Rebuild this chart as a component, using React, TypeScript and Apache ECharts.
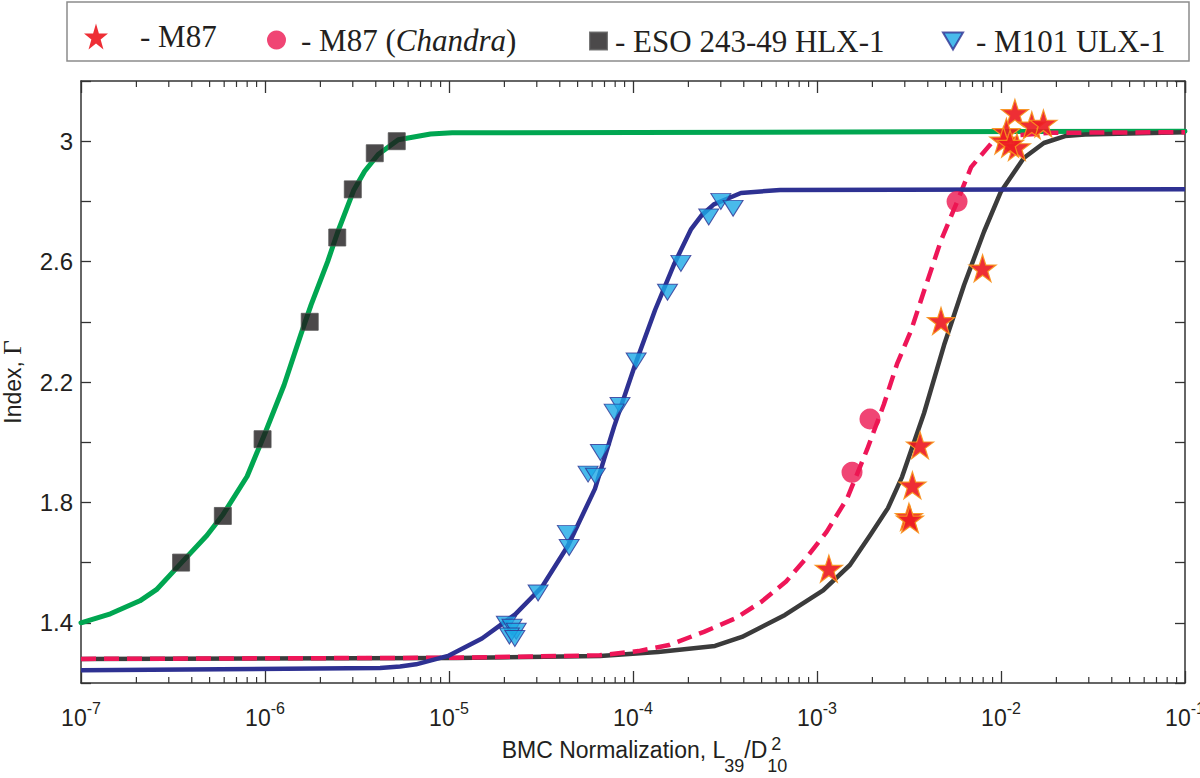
import { useEffect, useRef } from 'react';
import * as echarts from 'echarts';

/* ───── Data ───── */
// ESO 243-49 HLX-1 (black squares)
const hlxX = [3.5e-7, 5.9e-7, 9.7e-7, 1.75e-6, 2.47e-6, 3.0e-6, 3.95e-6, 5.2e-6];
const hlxY = [1.60, 1.755, 2.01, 2.40, 2.68, 2.84, 2.96, 3.0];

// M101 ULX-1 (blue triangles)
const ulxX = [3.0e-4, 3.5e-4, 2.58e-4, 1.82e-4, 1.54e-4, 1.04e-4, 8.5e-5, 7.9e-5, 6.65e-5, 5.7e-5, 6.25e-5, 4.4e-5, 4.5e-5, 3.05e-5, 2.05e-5, 2.2e-5, 2.32e-5, 2.13e-5, 2.28e-5];
const ulxY = [2.80, 2.777, 2.748, 2.594, 2.498, 2.27, 2.122, 2.10, 1.966, 1.894, 1.887, 1.697, 1.65, 1.499, 1.395, 1.385, 1.372, 1.356, 1.348];

// M87 (stars)
const m87X = [1.16e-3, 3.3e-3, 3.16e-3, 3.2e-3, 3.63e-3, 4.72e-3, 7.94e-3, 1.19e-2, 1.47e-2, 1.70e-2, 1.07e-2, 1.03e-2, 1.22e-2, 1.12e-2];
const m87Y = [1.58, 1.857, 1.752, 1.744, 1.99, 2.403, 2.578, 3.094, 3.053, 3.059, 3.031, 3.003, 2.981, 2.992];

// M87 Chandra (circles)
const chX = [1.55e-3, 1.94e-3, 5.77e-3];
const chY = [1.90, 2.077, 2.80];

// fitted curves
const hlxFitX = [1e-7, 1.445e-7, 2.09e-7, 2.57e-7, 3.52e-7, 4.83e-7, 5.92e-7, 8.0e-7, 1.0e-6, 1.27e-6, 1.57e-6, 1.78e-6, 2.19e-6, 2.49e-6, 3.03e-6, 3.48e-6, 4.12e-6, 5.3e-6, 7.94e-6, 1.04e-5, 1e-1];
const hlxFitY = [1.40, 1.43, 1.473, 1.51, 1.60, 1.69, 1.76, 1.887, 2.03, 2.19, 2.36, 2.456, 2.60, 2.70, 2.836, 2.90, 2.956, 3.005, 3.024, 3.028, 3.033];

const ulxFitX = [1e-7, 4.22e-6, 5.42e-6, 6.62e-6, 1.0e-5, 1.51e-5, 2.29e-5, 3.2e-5, 4.43e-5, 6.21e-5, 7.88e-5, 1.03e-4, 1.32e-4, 1.68e-4, 2.07e-4, 2.37e-4, 2.75e-4, 3.86e-4, 6.3e-4, 1e-1];
const ulxFitY = [1.242, 1.25, 1.255, 1.262, 1.291, 1.348, 1.428, 1.519, 1.656, 1.845, 2.05, 2.26, 2.44, 2.594, 2.708, 2.755, 2.79, 2.828, 2.838, 2.84];

const m87FitX = [1e-7, 1.1e-5, 6.62e-5, 1.37e-4, 2.79e-4, 3.91e-4, 6.7e-4, 1.08e-3, 1.51e-3, 1.94e-3, 2.43e-3, 2.9e-3, 3.82e-3, 4.9e-3, 6.3e-3, 8.09e-3, 1.0e-2, 1.33e-2, 1.71e-2, 2.23e-2, 2.86e-2, 1e-1];
const m87FitY = [1.28, 1.283, 1.29, 1.303, 1.323, 1.353, 1.426, 1.508, 1.592, 1.69, 1.781, 1.885, 2.097, 2.322, 2.522, 2.70, 2.833, 2.944, 2.994, 3.017, 3.022, 3.03];

const chFitX = [1e-7, 1.1e-5, 6.6e-5, 1.07e-4, 1.57e-4, 2.43e-4, 3.58e-4, 4.99e-4, 6.79e-4, 8.71e-4, 1.13e-3, 1.46e-3, 1.87e-3, 2.31e-3, 2.72e-3, 3.24e-3, 3.82e-3, 4.72e-3, 5.81e-3, 6.88e-3, 8.83e-3, 1.24e-2, 1.87e-2, 1e-1];
const chFitY = [1.28, 1.284, 1.292, 1.306, 1.326, 1.37, 1.414, 1.47, 1.537, 1.614, 1.703, 1.814, 1.975, 2.126, 2.259, 2.37, 2.503, 2.67, 2.803, 2.914, 2.992, 3.02, 3.028, 3.03];

// axes
const xMin = 1e-7;
const xMax = 1e-1;
const yMin = 1.2;
const yMax = 3.2;
const yStep = 0.2;
const yLabelled = [1.4, 1.8, 2.2, 2.6, 3.0];
const decades = [1e-7, 1e-6, 1e-5, 1e-4, 1e-3, 1e-2];
const minorSteps = [2, 3, 4, 5, 6, 7, 8, 9];

/* ───── Styling ───── */
const SANS = '"Liberation Sans", Arial, Helvetica, sans-serif';
const SERIF = '"Liberation Serif", "Times New Roman", Times, serif';
const INK = '#231f20';
const STAR = 'path://M50,0L61.8,35.1L98.9,35.1L68.9,56.8L80.4,91.9L50,70.3L19.6,91.9L31.1,56.8L1.1,35.1L38.2,35.1Z';
const TRI_DOWN = 'path://M0,0L20,0L10,16Z';

const zip = (xs: number[], ys: number[]) => xs.map((x, i) => [x, ys[i]]);

function textWidth(text: string, font: string) {
  const ctx = document.createElement('canvas').getContext('2d');
  if (!ctx) return text.length * 10;
  ctx.font = font;
  return ctx.measureText(text).width;
}

/* ───── Bottom axis title: BMC Normalization, L39/D^2_10 ───── */
function axisTitle(cx: number, cy: number) {
  const fBig = `23px ${SANS}`, fSmall = `18px ${SANS}`;
  const main = 'BMC Normalization, L';
  const total = textWidth(main, fBig) + textWidth('39', fSmall) + textWidth('/D', fBig) + textWidth('10', fSmall);
  let x = cx - total / 2;
  const txt = (text: string, font: string, px: number, py: number) => ({
    type: 'text', x: px, y: py, silent: true,
    style: { text, font, fill: INK, align: 'left', verticalAlign: 'middle' },
  });
  const els: any[] = [];
  els.push(txt(main, fBig, x, cy)); x += textWidth(main, fBig) - 1;
  els.push(txt('39', fSmall, x, cy + 16)); x += textWidth('39', fSmall);
  els.push(txt('/D', fBig, x, cy)); x += textWidth('/D', fBig);
  els.push(txt('2', fSmall, x + 4, cy - 6));
  els.push(txt('10', fSmall, x, cy + 16));
  return els;
}

export default function App() {
  const ref = useRef<HTMLDivElement>(null);

  useEffect(() => {
    if (!ref.current) return;
    const chart = echarts.init(ref.current, undefined, { renderer: 'svg' });

    const minorTicks: number[][] = [];
    decades.forEach(d => minorSteps.forEach(m => minorTicks.push([d * m, yMin])));

    const xLabel = {
      show: true, margin: 17,
      formatter: (v: number) => `{b|10}{s|${Math.round(Math.log10(v))}}`,
      rich: {
        b: { fontSize: 23, fontFamily: SANS, color: INK },
        s: { fontSize: 16, fontFamily: SANS, color: INK, padding: [0, 0, 20, 0] },
      },
    };
    const axisLine = { show: true, lineStyle: { color: '#333', width: 1.5 } };
    const tick = (length: number) => ({ show: true, inside: true, length, lineStyle: { color: '#333', width: 1.3 } });
    const yFmt = (v: number) => {
      const hit = yLabelled.find(l => Math.abs(l - v) < 1e-6);
      return hit == null ? '' : (hit === 3 ? '3' : hit.toFixed(1));
    };

    chart.setOption({
      animation: false,
      backgroundColor: '#fff',
      grid: { left: 81, right: 15, top: 81, bottom: 95, containLabel: false, outerBoundsMode: 'none' },
      graphic: [
        { type: 'rect', z: -1, silent: true, shape: { x: 67, y: 2, width: 1122, height: 59 }, style: { fill: '#fff', stroke: '#8c8c8c', lineWidth: 1.5 } },
        ...axisTitle(645, 750),
      ],
      legend: [
        { name: 'M87', left: 84, icon: STAR, w: 24, h: 26, pad: 27, text: '{p|- M87}' },
        { name: 'M87 (Chandra)', left: 267, icon: 'circle', w: 19, h: 19, pad: 10, text: '{p|- M87 (}{i|Chandra}{q|)}' },
        { name: 'ESO 243-49 HLX-1', left: 589, icon: 'rect', w: 17, h: 17, pad: 3, text: '{p|- ESO 243-49 HLX-1}' },
        { name: 'M101 ULX-1', left: 942, icon: TRI_DOWN, w: 20, h: 17, pad: 8, text: '{p|- M101 ULX-1}' },
      ].map(l => ({
        data: [{ name: l.name, icon: l.icon, itemStyle: l.name === 'M87' ? { borderWidth: 0 } : undefined }],
        left: l.left, top: 34 - l.h / 2, padding: 0,
        itemWidth: l.w, itemHeight: l.h, selectedMode: false, symbolKeepAspect: false,
        formatter: () => l.text,
        textStyle: {
          rich: {
            p: { fontSize: 31, fontFamily: SERIF, color: INK, padding: [0, 0, 0, l.pad] },
            q: { fontSize: 31, fontFamily: SERIF, color: INK },
            i: { fontSize: 31, fontFamily: SERIF, fontStyle: 'italic', color: INK },
          },
        },
      })),
      xAxis: [
        {
          type: 'log', logBase: 10, min: xMin, max: xMax, splitNumber: 6, position: 'bottom',
          axisLine, axisTick: tick(12), axisLabel: xLabel, splitLine: { show: false },
        },
        {
          type: 'log', logBase: 10, min: xMin, max: xMax, splitNumber: 6, position: 'top',
          axisLine, axisTick: tick(12), axisLabel: { show: false }, splitLine: { show: false },
        },
      ],
      yAxis: [
        {
          type: 'value', min: yMin, max: yMax, interval: yStep, position: 'left',
          axisLine, axisTick: tick(10),
          axisLabel: { margin: 8, fontSize: 24, fontFamily: SANS, color: INK, formatter: yFmt },
          splitLine: { show: false },
          name: '{a|Index, }{g|Γ}', nameLocation: 'middle', nameGap: 56, nameRotate: 90,
          nameTextStyle: {
            rich: {
              a: { fontSize: 23, fontFamily: SANS, color: INK },
              g: { fontSize: 25, fontFamily: SERIF, color: INK },
            },
          },
        },
        {
          type: 'value', min: yMin, max: yMax, interval: yStep, position: 'right',
          axisLine, axisTick: tick(10), axisLabel: { show: false }, splitLine: { show: false },
        },
      ],
      series: [
        {
          name: 'minor ticks', type: 'custom', silent: true, clip: false, z: 1,
          data: minorTicks,
          renderItem: (_p: any, api: any) => {
            const b = api.coord([api.value(0), yMin]);
            const t = api.coord([api.value(0), yMax]);
            const st = { stroke: '#333', lineWidth: 1.2 };
            return {
              type: 'group',
              children: [
                { type: 'line', shape: { x1: b[0], y1: b[1], x2: b[0], y2: b[1] - 6 }, style: st },
                { type: 'line', shape: { x1: t[0], y1: t[1], x2: t[0], y2: t[1] + 6 }, style: st },
              ],
            };
          },
        },
        {
          name: 'HLX fit', type: 'line', data: zip(hlxFitX, hlxFitY), showSymbol: false, smooth: false,
          lineStyle: { color: '#00a651', width: 5, cap: 'round', join: 'round' }, z: 2,
        },
        {
          name: 'M87 fit', type: 'line', data: zip(m87FitX, m87FitY), showSymbol: false, smooth: false,
          lineStyle: { color: '#3b3b3b', width: 4.5, join: 'round' }, z: 3,
        },
        {
          name: 'Chandra fit', type: 'line', data: zip(chFitX, chFitY), showSymbol: false, smooth: false,
          lineStyle: { color: '#ee1658', width: 4.5, type: [15, 8] }, z: 4,
        },
        {
          name: 'ULX fit', type: 'line', data: zip(ulxFitX, ulxFitY), showSymbol: false, smooth: false,
          lineStyle: { color: '#2e3192', width: 4.5, join: 'round' }, z: 5,
        },
        {
          name: 'M87', type: 'scatter', data: zip(m87X, m87Y), symbol: STAR, symbolSize: 27, z: 6,
          itemStyle: { color: '#ed1c24', borderColor: '#f7941d', borderWidth: 1.2, opacity: 0.92 },
        },
        {
          name: 'M87 (Chandra)', type: 'scatter', data: zip(chX, chY), symbol: 'circle', symbolSize: 21, z: 6,
          itemStyle: { color: '#ec1651' },
        },
        {
          name: 'ESO 243-49 HLX-1', type: 'scatter', data: zip(hlxX, hlxY), symbol: 'rect', symbolSize: 17, z: 6,
          itemStyle: { color: '#1e1c1d', borderColor: '#555', borderWidth: 1 },
        },
        {
          name: 'M101 ULX-1', type: 'scatter', data: zip(ulxX, ulxY), symbol: 'triangle', symbolRotate: 180, symbolSize: [20, 16], z: 6,
          itemStyle: { color: '#1ba9e6', borderColor: '#2e3192', borderWidth: 1 },
        },
      ],
    });

    return () => { chart.dispose(); };
  }, []);

  return (
    <div style={{ position: 'absolute', left: 0, top: 0, width: 1200, height: 778, background: '#fff' }}>
      <div ref={ref} style={{ width: 1200, height: 778 }} />
    </div>
  );
}
